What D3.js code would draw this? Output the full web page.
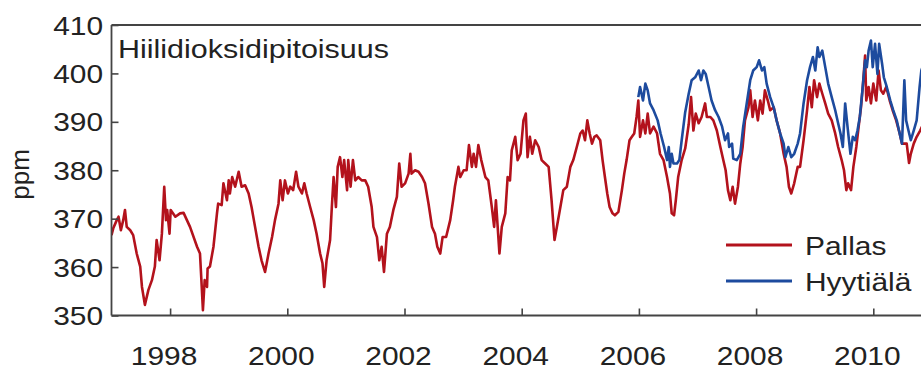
<!DOCTYPE html>
<html>
<head>
<meta charset="utf-8">
<script src="https://cdn.jsdelivr.net/npm/d3@7"></script>
<style>
  html, body { margin: 0; padding: 0; background: #fff; }
  svg { display: block; }
  text { font-family: "Liberation Sans", Arial, sans-serif; fill: #222; }
</style>
</head>
<body>
<svg id="chart" width="921" height="370"></svg>
<script>
// CO2 concentration, weekly-ish readings (decimal year, ppm)
const pallasYear = [
  1997.00,1997.03,1997.09,1997.12,1997.16,1997.20,1997.23,1997.26,1997.32,1997.37,
  1997.43,1997.49,1997.52,1997.57,1997.63,1997.69,1997.74,1997.77,1997.82,1997.86,
  1997.90,1997.93,1997.95,1997.99,1998.01,1998.09,1998.17,1998.23,1998.34,1998.46,
  1998.51,1998.54,1998.56,1998.59,1998.63,1998.64,1998.68,1998.74,1998.80,1998.82,
  1998.88,1998.91,1998.97,1999.00,1999.02,1999.06,1999.11,1999.17,1999.22,1999.28,
  1999.34,1999.39,1999.45,1999.51,1999.56,1999.62,1999.68,1999.74,1999.79,1999.85,
  1999.88,1999.92,1999.96,2000.01,2000.05,2000.10,2000.15,2000.19,2000.25,2000.29,
  2000.33,2000.39,2000.45,2000.50,2000.56,2000.60,2000.63,2000.67,2000.73,2000.76,
  2000.79,2000.83,2000.86,2000.90,2000.94,2000.97,2001.02,2001.04,2001.08,2001.12,
  2001.16,2001.21,2001.27,2001.33,2001.38,2001.44,2001.47,2001.53,2001.57,2001.61,
  2001.65,2001.70,2001.75,2001.81,2001.87,2001.91,2001.95,2002.01,2002.07,2002.10,
  2002.12,2002.18,2002.24,2002.30,2002.35,2002.41,2002.47,2002.52,2002.56,2002.61,
  2002.65,2002.71,2002.78,2002.83,2002.86,2002.89,2002.92,2002.95,2003.01,2003.06,
  2003.10,2003.15,2003.18,2003.22,2003.26,2003.31,2003.38,2003.43,2003.49,2003.53,
  2003.56,2003.59,2003.62,2003.66,2003.72,2003.76,2003.80,2003.83,2003.89,2003.93,
  2003.98,2004.03,2004.07,2004.10,2004.14,2004.18,2004.23,2004.29,2004.34,2004.40,
  2004.46,2004.51,2004.56,2004.60,2004.66,2004.71,2004.77,2004.83,2004.88,2004.94,
  2005.00,2005.04,2005.08,2005.12,2005.16,2005.20,2005.24,2005.28,2005.34,2005.38,
  2005.42,2005.46,2005.50,2005.55,2005.59,2005.65,2005.71,2005.75,2005.79,2005.84,
  2005.88,2005.92,2005.96,2005.99,2006.02,2006.07,2006.11,2006.15,2006.19,2006.25,
  2006.31,2006.36,2006.42,2006.48,2006.53,2006.56,2006.60,2006.63,2006.67,2006.73,
  2006.79,2006.85,2006.89,2006.93,2006.97,2007.02,2007.07,2007.13,2007.16,2007.22,
  2007.27,2007.33,2007.39,2007.44,2007.48,2007.52,2007.56,2007.60,2007.64,2007.69,
  2007.73,2007.77,2007.81,2007.87,2007.90,2007.94,2007.98,2008.03,2008.07,2008.11,
  2008.15,2008.20,2008.24,2008.30,2008.35,2008.41,2008.47,2008.52,2008.56,2008.60,
  2008.65,2008.71,2008.75,2008.81,2008.87,2008.91,2008.95,2008.99,2009.04,2009.08,
  2009.13,2009.18,2009.23,2009.29,2009.35,2009.40,2009.46,2009.50,2009.54,2009.57,
  2009.62,2009.66,2009.71,2009.75,2009.79,2009.82,2009.86,2009.88,2009.92,2009.96,
  2010.00,2010.05,2010.09,2010.13,2010.17,2010.22,2010.28,2010.33,2010.39,2010.45,
  2010.49,2010.53,2010.57,2010.61,2010.64,2010.69,2010.74,2010.80,2010.85
];
const pallasPpm = [
  366.6,368.0,369.7,370.4,367.6,369.7,371.8,368.3,367.6,366.6,
  362.8,360.1,355.9,352.2,355.3,357.3,360.1,365.6,361.4,366.9,
  376.6,369.7,371.8,366.9,371.8,370.4,371.1,371.2,368.3,364.2,
  362.8,355.9,351.1,357.3,355.9,359.7,360.1,364.2,371.1,373.1,
  372.8,377.3,373.8,377.9,375.2,378.6,376.6,379.7,376.6,376.9,
  375.2,372.4,368.3,364.2,361.4,359.0,362.8,366.2,369.7,373.1,
  377.9,373.8,377.9,375.2,376.6,375.9,379.7,376.6,375.2,377.3,
  375.2,372.4,369.7,366.9,362.8,360.8,355.9,361.4,365.6,372.4,
  378.6,372.4,380.7,382.7,378.6,382.1,375.9,382.1,376.6,382.1,
  377.9,378.6,377.9,377.9,376.6,372.4,368.3,366.2,361.4,364.2,
  359.0,366.9,368.3,371.8,374.5,381.4,376.6,377.3,379.3,383.4,
  379.3,380.0,379.7,378.6,377.3,373.1,368.3,366.9,364.2,362.8,
  366.2,366.2,369.7,373.8,376.6,378.6,380.7,378.6,380.0,380.0,
  385.2,380.7,383.4,380.7,385.2,382.1,378.6,377.9,372.4,368.3,
  373.8,368.3,362.8,368.3,371.1,378.6,377.9,384.1,386.9,382.1,
  383.4,390.3,391.7,382.7,386.9,383.4,386.2,384.8,382.1,381.4,
  380.7,373.8,365.6,368.3,372.4,375.9,376.6,380.7,382.1,384.8,
  387.6,388.2,386.2,390.3,387.6,385.5,386.9,387.2,386.2,382.1,
  378.6,375.2,372.4,371.1,370.7,371.4,375.9,379.3,382.1,386.2,
  386.9,387.6,391.0,394.4,386.9,390.3,387.6,391.7,387.6,389.0,
  387.6,383.4,382.1,378.6,375.2,371.1,370.7,373.8,378.6,382.1,
  384.5,389.5,395.1,388.2,391.7,389.7,391.0,393.8,391.0,391.0,
  390.3,388.2,384.8,382.1,380.0,375.9,373.8,376.6,373.1,376.6,
  381.4,384.8,390.3,393.0,396.5,391.0,394.4,390.3,394.4,391.7,
  396.5,394.4,392.4,393.0,390.3,387.6,383.4,380.7,376.6,375.2,
  377.3,380.7,380.7,386.2,392.4,397.2,393.0,398.6,395.1,397.9,
  395.8,393.8,391.7,390.3,387.6,384.8,382.1,380.0,375.9,377.3,
  375.9,380.7,384.8,389.0,393.0,397.2,403.7,394.4,397.2,393.8,
  397.9,394.4,400.6,396.5,395.8,397.2,394.4,392.4,390.3,387.6,
  385.5,385.5,385.5,381.5,383.4,385.5,386.9,388.2,389.5
];
const hyytialaYear = [
  2005.99,2006.02,2006.07,2006.11,2006.15,2006.19,2006.25,2006.32,2006.37,2006.43,
  2006.48,2006.51,2006.53,2006.56,2006.59,2006.65,2006.69,2006.73,2006.79,2006.85,
  2006.90,2006.96,2007.02,2007.06,2007.10,2007.14,2007.19,2007.24,2007.30,2007.36,
  2007.42,2007.47,2007.52,2007.54,2007.59,2007.61,2007.67,2007.73,2007.78,2007.84,
  2007.90,2007.95,2008.01,2008.05,2008.10,2008.14,2008.18,2008.24,2008.30,2008.35,
  2008.41,2008.47,2008.50,2008.55,2008.60,2008.65,2008.71,2008.75,2008.81,2008.87,
  2008.92,2008.97,2009.01,2009.05,2009.08,2009.13,2009.18,2009.23,2009.29,2009.35,
  2009.40,2009.44,2009.48,2009.52,2009.56,2009.61,2009.65,2009.69,2009.73,2009.77,
  2009.82,2009.86,2009.89,2009.92,2009.96,2009.99,2010.03,2010.07,2010.10,2010.15,
  2010.18,2010.23,2010.29,2010.34,2010.40,2010.45,2010.49,2010.53,2010.56,2010.60,
  2010.64,2010.69,2010.74,2010.79,2010.82,2010.86
];
const hyytialaPpm = [
  395.1,397.2,394.4,397.9,396.5,393.8,392.4,390.3,387.6,384.8,
  382.1,384.8,380.7,383.4,381.4,381.4,382.1,386.2,392.0,395.8,
  398.6,399.2,400.6,398.6,400.6,399.9,397.2,394.4,392.4,391.0,
  389.0,386.2,387.6,384.8,385.5,382.4,382.1,383.4,389.0,393.8,
  398.6,400.6,401.3,402.7,400.6,401.3,397.9,395.1,393.0,390.3,
  387.6,385.5,382.7,384.8,382.7,383.4,385.5,387.6,393.8,398.6,
  401.3,403.4,400.6,405.4,403.4,404.7,401.3,397.9,395.1,392.4,
  389.7,387.6,384.8,393.8,389.0,383.4,386.9,386.2,388.2,391.0,
  397.2,402.7,401.3,404.7,406.8,401.3,406.1,399.9,406.1,402.0,
  399.2,397.2,394.4,392.4,390.3,387.6,385.5,398.6,390.3,388.2,
  386.2,388.2,390.3,397.2,400.6,402.0
];
const yTicks = [350, 360, 370, 380, 390, 400, 410];
const xTicks = [1998, 2000, 2002, 2004, 2006, 2008, 2010];
const seriesNames = ["Pallas", "Hyytiälä"];
const seriesColors = ["#b3121c", "#1d4b9e"];
const titleText = "Hiilidioksidipitoisuus";
const yLabel = "ppm";

const svg = d3.select("#chart");
const plotLeft = 111.5, plotTop = 25, plotBottom = 315.5;
const pxPerYear = 58.6;
const stretch = 1.15;   // labels are set slightly wide

const x = d3.scaleLinear().domain([1997, 2011]).range([plotLeft, plotLeft + 14 * pxPerYear]);
const y = d3.scaleLinear().domain([350, 410]).range([plotBottom, plotTop]);

svg.append("defs").append("clipPath").attr("id", "plotClip")
  .append("rect").attr("x", plotLeft).attr("y", plotTop)
  .attr("width", 921 - plotLeft).attr("height", plotBottom - plotTop);

const line = d3.line().x(d => x(d[0])).y(d => y(d[1]));
const pallas = pallasYear.map((t, i) => [t, pallasPpm[i]]);
const hyytiala = hyytialaYear.map((t, i) => [t, hyytialaPpm[i]]);

const plot = svg.append("g").attr("clip-path", "url(#plotClip)");
[pallas, hyytiala].forEach((data, i) => {
  plot.append("path").datum(data)
    .attr("d", line)
    .attr("fill", "none")
    .attr("stroke", seriesColors[i])
    .attr("stroke-width", 2.6)
    .attr("stroke-linejoin", "round");
});

// Frame: top edge, left and bottom axes with inward ticks
const axisColor = "#444";
svg.append("line").attr("x1", plotLeft).attr("x2", 921).attr("y1", plotTop).attr("y2", plotTop)
  .attr("stroke", axisColor).attr("stroke-width", 1.8);

const yAxis = svg.append("g").attr("transform", `translate(${plotLeft},0)`)
  .call(d3.axisRight(y).tickValues(yTicks).tickSize(7).tickFormat(""));
const xAxis = svg.append("g").attr("transform", `translate(0,${plotBottom})`)
  .call(d3.axisTop(x).tickValues(xTicks).tickSize(7).tickFormat(""));
[yAxis, xAxis].forEach(g => {
  g.select(".domain").remove();
  g.selectAll("line").attr("stroke", axisColor).attr("stroke-width", 1.6);
});
svg.append("line").attr("x1", plotLeft).attr("x2", plotLeft).attr("y1", plotTop).attr("y2", plotBottom)
  .attr("stroke", axisColor).attr("stroke-width", 1.8);
svg.append("line").attr("x1", plotLeft).attr("x2", 921).attr("y1", plotBottom).attr("y2", plotBottom)
  .attr("stroke", axisColor).attr("stroke-width", 1.8);

// Tick labels
const fs = 26;
svg.append("g").selectAll("text").data(yTicks).join("text")
  .attr("transform", d => `translate(103,${y(d) + 9.5}) scale(${stretch},1)`)
  .attr("text-anchor", "end")
  .attr("font-size", fs)
  .text(d => d);
svg.append("g").selectAll("text").data(xTicks).join("text")
  .attr("transform", d => `translate(${x(d) - 6},365) scale(${stretch},1)`)
  .attr("text-anchor", "middle")
  .attr("font-size", fs)
  .text(d => d);

// Axis title
svg.append("text")
  .attr("transform", `translate(29,174.5) rotate(-90)`)
  .attr("text-anchor", "middle")
  .attr("font-size", 26)
  .text(yLabel);

// Panel title
svg.append("text")
  .attr("x", 118).attr("y", 58)
  .attr("font-size", fs)
  .attr("textLength", 271)
  .attr("lengthAdjust", "spacingAndGlyphs")
  .text(titleText);

// Legend
const legendY = [245, 281];
seriesNames.forEach((name, i) => {
  svg.append("line")
    .attr("x1", 726).attr("x2", 792)
    .attr("y1", legendY[i]).attr("y2", legendY[i])
    .attr("stroke", seriesColors[i]).attr("stroke-width", 3);
  svg.append("text")
    .attr("transform", `translate(805,${legendY[i] + 9.5}) scale(${stretch},1)`)
    .attr("font-size", fs)
    .text(name);
});
</script>
</body>
</html>
